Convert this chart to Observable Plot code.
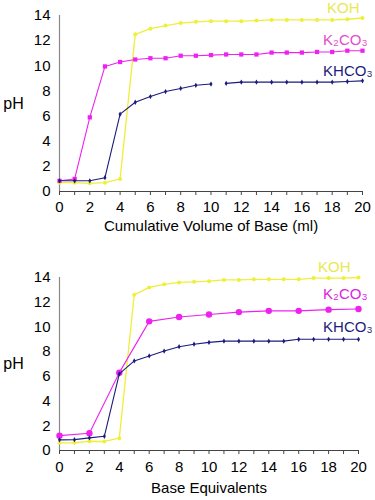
<!DOCTYPE html>
<html>
<head>
<meta charset="utf-8">
<script src="https://cdn.jsdelivr.net/npm/d3@7"></script>
<script src="https://cdn.jsdelivr.net/npm/@observablehq/plot@0.6"></script>
<style>
  html, body { margin: 0; padding: 0; background: #fff; }
  #chart { width: 375px; }
  svg { display: block; }
</style>
</head>
<body>
<div id="chart"></div>
<script>
// ---- Data ----
const seriesNames = ["KOH", "K₂CO₃", "KHCO₃"];

// Top panel: pH vs cumulative volume of base (ml)
const topX = [0,1,2,3,4,5,6,7,8,9,10,11,12,13,14,15,16,17,18,19,20];
const topKOH   = [0.7,0.7,0.65,0.7,1.0,12.5,12.95,13.2,13.4,13.5,13.55,13.55,13.55,13.6,13.65,13.65,13.65,13.65,13.65,13.7,13.8];
const topK2CO3 = [0.85,1.0,5.9,9.95,10.3,10.5,10.6,10.6,10.8,10.8,10.85,10.9,10.9,10.9,11.05,11.05,11.05,11.1,11.1,11.2,11.2];
const topKHCO3 = [0.85,0.85,0.85,1.1,6.15,7.1,7.55,7.95,8.2,8.45,8.55,8.6,8.7,8.7,8.7,8.7,8.7,8.7,8.7,8.75,8.8];
// the KHCO3 trace is broken between 10 and 11 ml in the reference
const topKHCO3Run = [0,0,0,0,0,0,0,0,0,0,0,1,1,1,1,1,1,1,1,1,1];

// Bottom panel: pH vs base equivalents
const botX = [0,1,2,3,4,5,6,7,8,9,10,11,12,13,14,15,16,17,18,19,20];
const botKOH   = [0.62,0.62,0.75,0.73,1.0,12.6,13.2,13.45,13.6,13.65,13.7,13.8,13.8,13.85,13.85,13.85,13.85,13.95,13.95,13.95,14.0];
const botK2CO3X = [0,2,4,6,8,10,12,14,16,18,20];
const botK2CO3  = [1.2,1.4,6.3,10.45,10.8,11.0,11.2,11.3,11.3,11.4,11.45];
const botKHCO3 = [0.86,0.88,1.02,1.15,6.2,7.25,7.65,8.05,8.4,8.6,8.75,8.85,8.85,8.85,8.85,8.85,9.0,9.0,9.0,9.0,9.0];
const botKHCO3Run = botX.map(() => 0);

const xTicks = d3.range(0, 21, 1);
const yTicks = d3.range(0, 15, 2);

// ---- Styling ----
const FONT = "'Liberation Sans', Arial, Helvetica, sans-serif";
const colors = {KOH: "#efef3a", K2CO3: "#ee22ee", KHCO3: "#1c1c7c"};
const labelColors = {KOH: "#e8e850", K2CO3: "#e84cc8", KHCO3: "#1c1c7c"};

function rows(xs, ys, zs) { return xs.map((x, i) => ({x, y: ys[i], z: zs ? zs[i] : 0})); }

function panel({kohX, koh, k2X, k2, khX, kh, khRun, xLabel, marginTop, marginBottom, marginRight, tickPad, labelDy, k2Symbol, k2R, k2Label, offs}) {
  const K = rows(kohX, koh), C = rows(k2X, k2), H = rows(khX, kh, khRun);
  return Plot.plot({
    width: 375,
    height: 250,
    marginLeft: 59,
    marginRight,
    marginTop,
    marginBottom,
    style: {fontFamily: FONT, fontSize: "15px", color: "#000", background: "#fff", overflow: "visible"},
    x: {domain: [0, 20]},
    y: {domain: [0, 14]},
    marks: [
      Plot.ruleX([0], {y1: 0, y2: 14, stroke: "#8a8a8a", strokeWidth: 1.2}),
      Plot.ruleY([0], {x1: 0, x2: 20, stroke: "#444", strokeWidth: 1}),
      Plot.axisX({ticks: xTicks, tickFormat: d => d % 2 ? "" : d, tickSize: 4, tickPadding: tickPad, stroke: "#444", label: null, fontSize: 15, letterSpacing: "0.8px"}),
      Plot.axisY({ticks: yTicks, tickSize: 0, tickPadding: 9, label: null, fontSize: 15, letterSpacing: "0.8px"}),
      Plot.text([xLabel], {frameAnchor: "bottom", textAnchor: "middle", lineAnchor: "middle", dy: labelDy, fontSize: 15, letterSpacing: "0.3px"}),
      Plot.text(["pH"], {frameAnchor: "left", textAnchor: "middle", lineAnchor: "middle", dx: -46, fontSize: 16}),
      // KOH
      Plot.line(K, {x: "x", y: "y", stroke: colors.KOH, strokeWidth: 1.3}),
      Plot.dot(K, {x: "x", y: "y", r: 2, fill: colors.KOH, stroke: "none"}),
      // K2CO3
      Plot.line(C, {x: "x", y: "y", stroke: colors.K2CO3, strokeWidth: 1.1}),
      Plot.dot(C, {x: "x", y: "y", r: k2R, symbol: k2Symbol, fill: colors.K2CO3, stroke: "none"}),
      // KHCO3
      Plot.line(H, {x: "x", y: "y", z: "z", stroke: colors.KHCO3, strokeWidth: 1.1}),
      Plot.dot(H, {x: "x", y: "y", r: 1.6, symbol: "diamond", fill: colors.KHCO3, stroke: "none"}),
      // Series labels, anchored to each series' last point
      Plot.text([K[K.length - 1]], {x: "x", y: "y", text: () => seriesNames[0], textAnchor: "end", lineAnchor: "middle", dx: offs[0][0], dy: offs[0][1], fill: labelColors.KOH, fontSize: 15}),
      Plot.text([C[C.length - 1]], {x: "x", y: "y", text: () => seriesNames[1], textAnchor: "end", lineAnchor: "middle", dx: offs[1][0], dy: offs[1][1], fill: k2Label, fontSize: 15}),
      Plot.text([H[H.length - 1]], {x: "x", y: "y", text: () => seriesNames[2], textAnchor: "end", lineAnchor: "middle", dx: offs[2][0], dy: offs[2][1], fill: labelColors.KHCO3, fontSize: 15})
    ]
  });
}

const topPanel = panel({
  kohX: topX, koh: topKOH, k2X: topX, k2: topK2CO3, khX: topX, kh: topKHCO3, khRun: topKHCO3Run,
  xLabel: "Cumulative Volume of Base (ml)",
  marginTop: 15, marginBottom: 59, marginRight: 13, tickPad: 6, labelDy: 35,
  k2Symbol: "square", k2R: 2.4, k2Label: labelColors.K2CO3,
  offs: [[-3, -10], [5, -11], [10, -10]]
});

const bottomPanel = panel({
  kohX: botX, koh: botKOH, k2X: botK2CO3X, k2: botK2CO3, khX: botX, kh: botKHCO3, khRun: botKHCO3Run,
  xLabel: "Base Equivalents",
  marginTop: 27, marginBottom: 50, marginRight: 17, tickPad: 7, labelDy: 38,
  k2Symbol: "circle", k2R: 3.2, k2Label: "#e020e0",
  offs: [[-8, -10], [9, -15], [14, -12]]
});

const root = document.getElementById("chart");
root.appendChild(topPanel);
root.appendChild(bottomPanel);
</script>
</body>
</html>
